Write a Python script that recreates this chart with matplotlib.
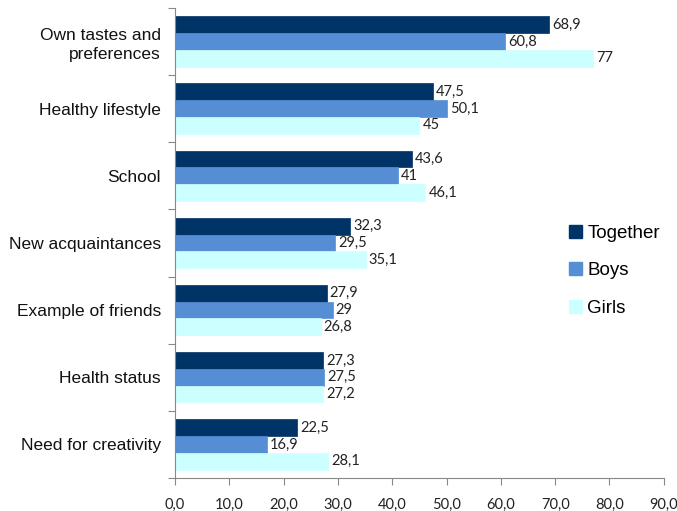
import numpy as np
import matplotlib
matplotlib.use("Agg")
import matplotlib.pyplot as plt
from matplotlib.patches import Patch

categories = ["Own tastes and\npreferences", "Healthy lifestyle", "School",
              "New acquaintances", "Example of friends", "Health status",
              "Need for creativity"]
together = [68.9, 47.5, 43.6, 32.3, 27.9, 27.3, 22.5]
boys = [60.8, 50.1, 41, 29.5, 29, 27.5, 16.9]
girls = [77, 45, 46.1, 35.1, 26.8, 27.2, 28.1]
series_names = ["Together", "Boys", "Girls"]
colors = ["#003366", "#558ED5", "#CCFFFF"]
x_ticks = [0, 10, 20, 30, 40, 50, 60, 70, 80, 90]


def fmt(v):
    s = f"{v:g}"
    return s.replace(".", ",")


fig = plt.figure(figsize=(6.77, 5.11), dpi=100)
ax = fig.add_axes([0.2585, 0.0646, 0.722, 0.92])

y = np.arange(len(categories))
h = 0.25
for k, (vals, col, name) in enumerate(zip([together, boys, girls], colors, series_names)):
    pos = y + (k - 1) * h
    ax.barh(pos, vals, height=h, color=col, edgecolor=col, linewidth=0.5, label=name)
    for p, v in zip(pos, vals):
        ax.text(v + 0.6, p, fmt(v), va="center", ha="left",
                fontsize=10.5, family="Lato", color="#222222")

ax.set_ylim(len(categories) - 0.5, -0.5)
ax.set_xlim(0, 90)

# boundaries as major ticks, labels as minor
ax.set_yticks(np.arange(len(categories) + 1) - 0.5)
ax.set_yticklabels([])
ax.set_yticks(y, minor=True)
ax.set_yticklabels(categories, minor=True, fontsize=12.5,
                   family="Liberation Sans", color="#111111", linespacing=1.3)
ax.tick_params(axis="y", which="minor", length=0, pad=10)
ax.tick_params(axis="y", which="major", length=5, color="#888888")

ax.set_xticks(x_ticks)
ax.set_xticklabels([f"{t:.1f}".replace(".", ",") for t in x_ticks],
                   fontsize=10.5, family="Lato", color="#222222")
ax.tick_params(axis="x", length=5, color="#888888", pad=9)

for s in ["top", "right"]:
    ax.spines[s].set_visible(False)
for s in ["left", "bottom"]:
    ax.spines[s].set_color("#888888")

handles = [Patch(facecolor=c, edgecolor=c, label=n) for c, n in zip(colors, series_names)]
fig.legend(handles=handles, loc="center left", bbox_to_anchor=(0.815, 0.47),
           frameon=False, prop={"family": "Liberation Sans", "size": 13.5},
           handlelength=0.7, handleheight=0.7, handletextpad=0.3, labelspacing=1.1)

fig.savefig("out.png", dpi=100)
